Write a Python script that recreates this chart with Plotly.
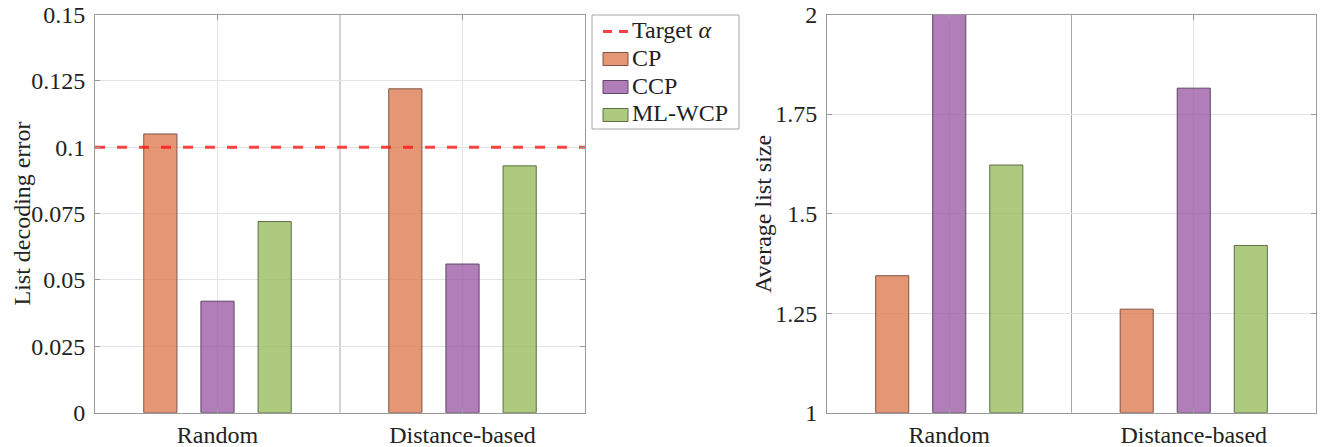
import plotly.graph_objects as go

# Grouped-bar comparison of three conformal prediction schemes
scenarios = ["Random", "Distance-based"]
methods = ["CP", "CCP", "ML-WCP"]

error_cp = [0.105, 0.122]
error_ccp = [0.042, 0.056]
error_mlwcp = [0.072, 0.093]

size_cp = [1.344, 1.26]
size_ccp = [2.0, 1.815]
size_mlwcp = [1.622, 1.42]

target_alpha = 0.1

err_ticks = [0, 0.025, 0.05, 0.075, 0.1, 0.125, 0.15]
err_labels = ["0", "0.025", "0.05", "0.075", "0.1", "0.125", "0.15"]
size_ticks = [1, 1.25, 1.5, 1.75, 2]
size_labels = ["1", "1.25", "1.5", "1.75", "2"]

fill_colors = ["rgba(222,125,82,0.80)", "rgba(155,90,165,0.78)", "rgba(150,187,90,0.78)"]
edge_colors = ["#7d5444", "#5f4668", "#5e6f47"]
alpha_color = "rgba(255,20,20,0.8)"

FONT = "Liberation Serif, Times New Roman, serif"
TXT = "#222222"
AXC = "#9a9a9a"
GRID = "#e3e3e3"

W, H = 1320, 447
xpos = [1, 2]

fig = go.Figure()

errors = [error_cp, error_ccp, error_mlwcp]
sizes = [size_cp, size_ccp, size_mlwcp]

for i, name in enumerate(methods):
    fig.add_trace(go.Bar(
        x=xpos, y=errors[i], name=name,
        marker=dict(color=fill_colors[i], line=dict(color=edge_colors[i], width=1)),
        xaxis="x", yaxis="y",
    ))
for i, name in enumerate(methods):
    fig.add_trace(go.Bar(
        x=xpos, y=[v - 1 for v in sizes[i]], base=1, name=name,
        marker=dict(color=fill_colors[i], line=dict(color=edge_colors[i], width=1)),
        xaxis="x2", yaxis="y2",
    ))

# Target miscoverage level
fig.add_trace(go.Scatter(
    x=[0.5, 2.5], y=[target_alpha, target_alpha], mode="lines",
    name="Target α",
    line=dict(color=alpha_color, width=3, dash="10px,12px"),
    xaxis="x", yaxis="y",
))

# Separator between the two scenarios
for xr, yr in [("x", "y"), ("x2", "y2")]:
    fig.add_shape(type="line", xref=xr, yref=yr + " domain",
                  x0=1.5, x1=1.5, y0=0, y1=1, line=dict(color="#a8a8a8", width=1), layer="below")

# Legend box (paper pixels converted to fractions)
def px(x):
    return x / W


def py(y):
    return (H - y) / H


fig.add_shape(type="rect", xref="paper", yref="paper",
              x0=px(592), x1=px(739), y0=py(129), y1=py(15),
              line=dict(color="#a6a6a6", width=1), fillcolor="white")

legend_annotations = []
baselines = [37.5, 65.5, 93.5, 121.5]
labels = ["Target <i>α</i>"] + methods
for k, (lab, base) in enumerate(zip(labels, baselines)):
    if k == 0:
        fig.add_shape(type="line", xref="paper", yref="paper",
                      x0=px(603), x1=px(628), y0=py(base - 6), y1=py(base - 6),
                      line=dict(color=alpha_color, width=3, dash="9px,7px"))
    else:
        fig.add_shape(type="rect", xref="paper", yref="paper",
                      x0=px(603), x1=px(628), y0=py(base), y1=py(base - 13),
                      line=dict(color=edge_colors[k - 1], width=1), fillcolor=fill_colors[k - 1])
    legend_annotations.append(dict(
        text=lab, x=px(630), y=py(base - 8), xref="paper", yref="paper",
        xanchor="left", yanchor="middle", showarrow=False,
        font=dict(family=FONT, size=24, color=TXT),
    ))

ydom = [(H - 412.7) / H, (H - 14.5) / H]

xcommon = dict(
    tickmode="array", tickvals=xpos, ticktext=scenarios, range=[0.5, 2.5],
    showgrid=True, gridcolor=GRID, gridwidth=1, zeroline=False,
    showline=True, linecolor=AXC, linewidth=1, mirror="ticks",
    ticks="inside", ticklen=5, tickcolor=AXC, automargin=False,
    tickfont=dict(family=FONT, size=24, color=TXT),
)
ycommon = dict(
    tickmode="array", showgrid=True, gridcolor=GRID, gridwidth=1, zeroline=False,
    showline=True, linecolor=AXC, linewidth=1, mirror="ticks",
    ticks="inside", ticklen=5, tickcolor=AXC, ticklabelstandoff=4, automargin=False,
    tickfont=dict(family=FONT, size=24, color=TXT), domain=ydom,
)

fig.update_layout(
    width=W, height=H,
    margin=dict(l=0, r=0, t=0, b=0, autoexpand=False),
    paper_bgcolor="white", plot_bgcolor="white",
    barmode="group", bargap=0.3, bargroupgap=0.42,
    font=dict(family=FONT, size=24, color=TXT),
    showlegend=False,
    xaxis=dict(domain=[px(95), px(585)], anchor="y", **xcommon),
    yaxis=dict(anchor="x", range=[0, 0.15], tickvals=err_ticks, ticktext=err_labels, **ycommon),
    xaxis2=dict(domain=[px(827), px(1316)], anchor="y2", **xcommon),
    yaxis2=dict(anchor="x2", range=[1, 2], tickvals=size_ticks, ticktext=size_labels, **ycommon),
    annotations=[
        dict(text="List decoding error", x=px(21), y=py(213.5), xref="paper", yref="paper",
             textangle=-90, showarrow=False, font=dict(family=FONT, size=24, color=TXT),
             xanchor="center", yanchor="middle"),
        dict(text="Average list size", x=px(763), y=py(214), xref="paper", yref="paper",
             textangle=-90, showarrow=False, font=dict(family=FONT, size=24, color=TXT),
             xanchor="center", yanchor="middle"),
    ] + legend_annotations,
)

fig.write_html("out.html")
